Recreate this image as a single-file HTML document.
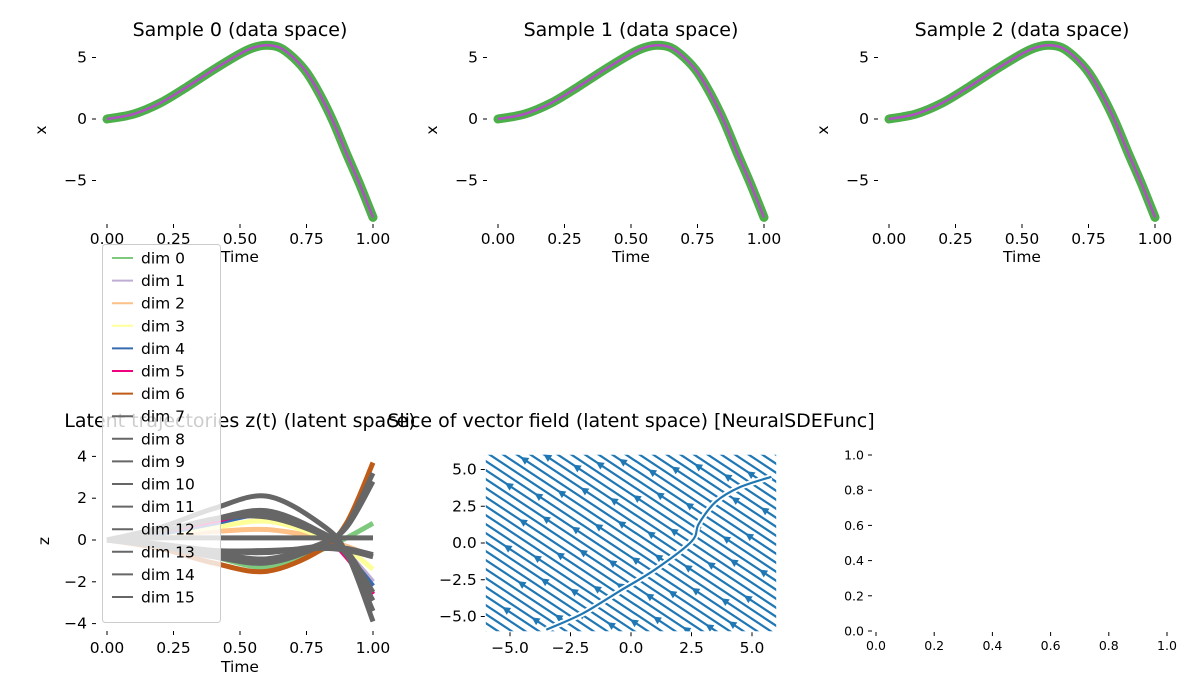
<!DOCTYPE html>
<html><head><meta charset="utf-8">
<style>
html,body{margin:0;padding:0;background:#fff;width:1200px;height:700px;overflow:hidden;}
svg{display:block;font-family:"DejaVu Sans","Liberation Sans",sans-serif;}
</style></head>
<body>
<svg id="fig" width="1200" height="700" viewBox="0 0 1200 700" xmlns="http://www.w3.org/2000/svg"></svg>
<script>
// ---------- data ----------
const sampleTimes = [0,0.1,0.2,0.3,0.4,0.5,0.55,0.6,0.65,0.7,0.75,0.8,0.85,0.9,0.95,1.0];
const sampleValues = [0,0.4,1.3,2.6,4.0,5.3,5.8,6.0,5.8,5.0,3.8,2.0,-0.2,-2.8,-5.3,-8.0];
const topXTicks = ["0.00","0.25","0.50","0.75","1.00"];
const topYTicks = [5,0,-5];
const latentTimes = [0,0.2,0.4,0.6,0.8,0.9,1.0];
const latentDims = [
 [0,-0.3,-0.8,-1.3,-0.5,0.1,0.8],
 [0,0.3,0.8,1.2,0.3,-0.6,-2.0],
 [0,0.2,0.4,0.5,0.1,-0.3,-0.8],
 [0,0.3,0.6,0.9,0.2,-0.4,-1.4],
 [0,0.3,0.8,1.2,0.3,-0.7,-2.2],
 [0,0.4,0.9,1.3,0.3,-0.8,-2.6],
 [0,-0.4,-1.1,-1.5,-0.5,0.8,3.7],
 [0,0.6,1.5,2.1,0.8,-0.6,-3.9],
 [0,0.4,1.0,1.4,0.4,-0.7,-2.9],
 [0,-0.3,-0.8,-1.1,-0.3,0.7,3.2],
 [0,0.1,0.1,0.1,0.1,0.1,0.1],
 [0,-0.2,-0.5,-0.6,-0.3,-0.4,-0.7],
 [0,0.4,1.0,1.1,0.3,-0.5,-2.5],
 [0,-0.3,-0.6,-0.9,-0.2,0.6,2.8],
 [0,-0.2,-0.5,-0.5,-0.4,-0.5,-0.8],
 [0,0.4,1.0,1.3,0.4,-0.6,-3.4]
];
const dimColors = ["#7fc97f","#beaed4","#fdc086","#ffff99","#386cb0","#f0027f","#bf5b17","#666666","#666666","#666666","#666666","#666666","#666666","#666666","#666666","#666666"];
const latentYTicks = [4,2,0,-2,-4];
const fieldTicks = [-5,-2.5,0,2.5,5];
const fieldTickLabels = ["\u22125.0","\u22122.5","0.0","2.5","5.0"];
const separatrixX = [-3.5,-2.0,-0.5,1.0,2.5,2.8,3.5,4.5,5.8];
const separatrixY = [-5.9,-4.8,-3.3,-1.8,0.1,1.3,2.8,3.8,4.5];
const emptyTicks = ["0.0","0.2","0.4","0.6","0.8","1.0"];

// ---------- helpers ----------
const NS="http://www.w3.org/2000/svg";
const svg=document.getElementById('fig');
function mk(tag,attrs,parent){const e=document.createElementNS(NS,tag);for(const k in attrs)e.setAttribute(k,attrs[k]);(parent||svg).appendChild(e);return e;}
function txt(s,x,y,size,anchor,parent,rot){const t=mk('text',{x:x,y:y,'font-size':size,'text-anchor':anchor||'middle',fill:'#000'},parent);if(rot)t.setAttribute('transform','rotate(-90 '+x+' '+y+')');t.textContent=s;return t;}
function smooth(pts){let d='M'+pts[0][0]+','+pts[0][1];for(let i=0;i<pts.length-1;i++){const p0=pts[Math.max(0,i-1)],p1=pts[i],p2=pts[i+1],p3=pts[Math.min(pts.length-1,i+2)];const c1=[p1[0]+(p2[0]-p0[0])/6,p1[1]+(p2[1]-p0[1])/6],c2=[p2[0]-(p3[0]-p1[0])/6,p2[1]-(p3[1]-p1[1])/6];d+=' C'+c1+' '+c2+' '+p2;}return d;}
const TF=19, TK=15.5;

// ---------- top sample panels ----------
const tops=[{x0:107,title:"Sample 0 (data space)"},{x0:498,title:"Sample 1 (data space)"},{x0:889,title:"Sample 2 (data space)"}];
tops.forEach((p,pi)=>{
  const g=mk('g',{});
  
  
  const sx=t=>p.x0+t*266, sy=v=>119-v*12.3;
  const tt=txt(p.title,p.x0+133,36,TF,'middle',g);
  
  
  topXTicks.forEach(l=>{const x=sx(parseFloat(l));mk('line',{x1:x,x2:x,y1:224,y2:228,stroke:'#000'},g);const e=txt(l,x,244,TK,'middle',g);});
  topYTicks.forEach(v=>{const y=sy(v);mk('line',{x1:92,x2:96,y1:y,y2:y,stroke:'#000',transform:'translate('+(p.x0-107)+',0)'},g);const e=txt(v<0?"\u2212"+(-v):String(v),p.x0-20,y+5,TK,'end',g);});
  const xl=txt("Time",p.x0+133,262,TK,'middle',g);
  const yl=txt("x",p.x0-61,130,TK,'middle',g,true);
  const pts=sampleTimes.map((t,i)=>[sx(t),sy(sampleValues[i])]);
  const m=mk('path',{d:smooth(pts),fill:'none',stroke:'#4daf4a',"stroke-width":9,"stroke-linecap":"round"},g);
  
  const l=mk('path',{d:smooth(pts),fill:'none',stroke:'#b24fc4',"stroke-width":2.5},g);
  
});

// ---------- latent panel ----------
(function(){
  const g=mk('g',{});
  
  const sx=t=>107+t*266, sy=v=>540-v*20.9;
  latentDims.forEach((vals,d)=>{
    const pts=latentTimes.map((t,i)=>[sx(t),sy(vals[i])]);
    const p=mk('path',{d:smooth(pts),fill:'none',stroke:dimColors[d],"stroke-width":5},g);
    
  });
  topXTicks.forEach(l=>{const x=sx(parseFloat(l));mk('line',{x1:x,x2:x,y1:631,y2:635,stroke:'#000'},g);const e=txt(l,x,653,TK,'middle',g);});
  latentYTicks.forEach(v=>{const y=sy(v);mk('line',{x1:92,x2:96,y1:y,y2:y,stroke:'#000'},g);const e=txt(v<0?"\u2212"+(-v):String(v),87,y+5,TK,'end',g);});
  const xl=txt("Time",240,672,TK,'middle',g);
  const yl=txt("z",49,541,TK,'middle',g,true);
  const tl=txt("Latent trajectories z(t) (latent space)",240,427,TF,'middle',g);
  // legend
  const lg=mk('g',{});
  mk('rect',{x:102.5,y:244.5,width:118,height:378,rx:3,fill:'rgba(255,255,255,0.8)',stroke:'#ccc'},lg);
  dimColors.forEach((c,d)=>{
    const y=258+d*22.6;
    const e=mk('g',{},lg);
    mk('line',{x1:112,x2:133,y1:y,y2:y,stroke:c,"stroke-width":2},e);
    txt("dim "+d,141,y+5.5,TK,'start',e);
  });
})();

// ---------- vector field panel ----------
(function(){
  const g=mk('g',{});
  
  const sx=v=>631+v*24.2, sy=v=>543-v*14.7;
  const L=sx(-6),R=sx(6),T=sy(6),B=sy(-6);
  mk('clipPath',{id:'vfclip'},g).appendChild(mk('rect',{x:L,y:T,width:R-L,height:B-T}));
  const lines=mk('g',{'clip-path':'url(#vfclip)'},g);
  
  const slope=0.66;
  let k=0;
  for(let c=T-(R-L)*slope;c<B+10;c+=9){
    const x1=L-5,x2=R+5;
    const s=mk('line',{x1:x1,y1:c+(x1-L)*slope,x2:x2,y2:c+(x2-L)*slope,stroke:'#1f77b4',"stroke-width":2.2},lines);
    
    for(let a=0;a<3;a++){
      const ax=L+20+((k*37+a*97)%(R-L-30)), ay=c+(ax-L)*slope;
      if(ay<T||ay>B) continue;
      const ar=mk('polygon',{points:'-5,0 3,-4 3,4',fill:'#1f77b4',transform:'translate('+ax+','+ay+') rotate('+(Math.atan(slope)*180/Math.PI)+')'},lines);
      
    }
    k++;
  }
  const sp=separatrixX.map((x,i)=>[sx(x),sy(separatrixY[i])]);
  const se=mk('path',{d:smooth(sp),fill:'none',stroke:'#fff',"stroke-width":6},lines);
  
  const s2=mk('path',{d:smooth(sp),fill:'none',stroke:'#1f77b4',"stroke-width":2.2},lines);
  
  fieldTicks.forEach((v,i)=>{
    const x=sx(v);mk('line',{x1:x,x2:x,y1:B+1,y2:B+5,stroke:'#000'},g);
    const e=txt(fieldTickLabels[i],x,653,TK,'middle',g);
    const y=sy(v);mk('line',{x1:L-5,x2:L-1,y1:y,y2:y,stroke:'#000'},g);
    const f=txt(fieldTickLabels[i],L-9,y+5,TK,'end',g);
  });
  const tl=txt("Slice of vector field (latent space) [NeuralSDEFunc]",631,427,TF,'middle',g);
})();

// ---------- empty panel ----------
(function(){
  const g=mk('g',{});
  
  const sx=v=>876+v*291, sy=v=>631-v*176;
  emptyTicks.forEach(l=>{
    const v=parseFloat(l);
    const x=sx(v);mk('line',{x1:x,x2:x,y1:632,y2:636,stroke:'#000'},g);
    const e=txt(l,x,650,12.5,'middle',g);
    const y=sy(v);mk('line',{x1:868,x2:872,y1:y,y2:y,stroke:'#000'},g);
    const f=txt(l,864,y+4.5,12.5,'end',g);
  });
})();
</script>
</body></html>
